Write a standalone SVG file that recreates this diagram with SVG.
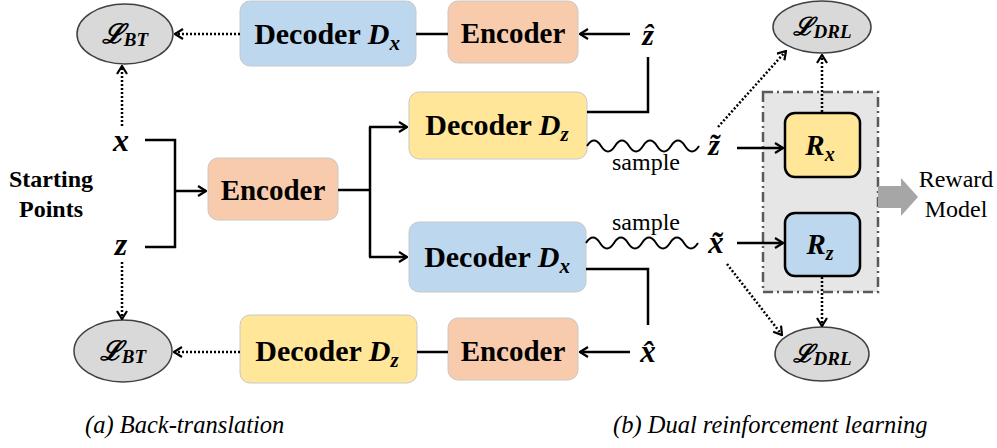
<svg xmlns="http://www.w3.org/2000/svg" width="997" height="448" viewBox="0 0 997 448">
<style>
.box{stroke:#c8c8c8;stroke-width:1}
.blue{fill:#bdd7ee}.yellow{fill:#ffe699}.orange{fill:#f8cbad}
.loss{fill:#d9d9d9;stroke:#404040;stroke-width:1.5}
.sol{fill:none;stroke:#000;stroke-width:2.5}
.dot{fill:none;stroke:#000;stroke-width:2.5;stroke-dasharray:2 2}
.wave{fill:none;stroke:#000;stroke-width:2}
</style>
<defs>
<marker id="ah" markerWidth="10" markerHeight="12" refX="9" refY="6" orient="auto" markerUnits="userSpaceOnUse">
<path d="M1,1 L9,6 L1,11" fill="none" stroke="#000" stroke-width="2.2"/>
</marker>
</defs>
<rect width="997" height="448" fill="#fff"/>

<g font-family="'Liberation Serif', 'Times New Roman', 'DejaVu Serif', serif" fill="#000">

<g id="reward-model">
<rect x="763" y="92" width="115" height="200" fill="#e7e6e6" stroke="#5a5a5a" stroke-width="2.5" stroke-dasharray="10 4 2 4"/>
<path d="M878,186 H901 V178 L918,197 L901,216 V208 H878 Z" fill="#a6a6a6"/>
<text x="956" y="187" font-size="24" text-anchor="middle">Reward</text>
<text x="956" y="217" font-size="24" text-anchor="middle">Model</text>
</g>

<g id="loss-bt-top"><ellipse class="loss" cx="125" cy="34" rx="48" ry="30"/>
<text x="125" y="43" font-size="27" font-weight="bold" font-style="italic" text-anchor="middle">ℒ<tspan font-size="19" dy="3">BT</tspan></text></g>
<g id="decoder-dx-top"><rect class="box blue" x="240" y="1" width="176" height="65" rx="10"/>
<text x="327" y="44" font-size="30" font-weight="bold" text-anchor="middle">Decoder <tspan font-style="italic">D</tspan><tspan font-style="italic" font-size="21" dy="6">x</tspan></text></g>
<g id="encoder-top"><rect class="box orange" x="448" y="1" width="130" height="62" rx="10"/>
<text x="513" y="43" font-size="29" font-weight="bold" text-anchor="middle">Encoder</text></g>
<g id="zhat"><text x="648" y="45" font-size="30" font-weight="bold" font-style="italic" text-anchor="middle">ẑ</text></g>

<g id="x-start"><text x="121" y="151" font-size="32" font-weight="bold" font-style="italic" text-anchor="middle">x</text></g>
<g id="z-start"><text x="121" y="255" font-size="32" font-weight="bold" font-style="italic" text-anchor="middle">z</text></g>
<g id="starting-points"><text x="51" y="187" font-size="24" font-weight="bold" text-anchor="middle">Starting</text>
<text x="51" y="217" font-size="24" font-weight="bold" text-anchor="middle">Points</text></g>

<g id="encoder-mid"><rect class="box orange" x="208" y="158" width="130" height="62" rx="10"/>
<text x="273" y="200" font-size="29" font-weight="bold" text-anchor="middle">Encoder</text></g>
<g id="decoder-dz-mid"><rect class="box yellow" x="409" y="92" width="178" height="67" rx="10"/>
<text x="497" y="135" font-size="30" font-weight="bold" text-anchor="middle">Decoder <tspan font-style="italic">D</tspan><tspan font-style="italic" font-size="21" dy="6">z</tspan></text></g>
<g id="decoder-dx-mid"><rect class="box blue" x="409" y="222" width="177" height="70" rx="10"/>
<text x="497" y="267" font-size="30" font-weight="bold" text-anchor="middle">Decoder <tspan font-style="italic">D</tspan><tspan font-style="italic" font-size="21" dy="6">x</tspan></text></g>

<g id="ztilde"><text x="714" y="155" font-size="30" font-weight="bold" font-style="italic" text-anchor="middle">z̃</text></g>
<g id="xtilde"><text x="716" y="253" font-size="31" font-weight="bold" font-style="italic" text-anchor="middle">x̃</text></g>
<g id="xhat"><text x="648" y="362" font-size="31" font-weight="bold" font-style="italic" text-anchor="middle">x̂</text></g>

<g id="rx"><rect x="785" y="113" width="75" height="64" rx="10" fill="#ffe699" stroke="#000" stroke-width="2.5"/>
<text x="820" y="155" font-size="29" font-weight="bold" font-style="italic" text-anchor="middle">R<tspan font-size="20" dy="6">x</tspan></text></g>
<g id="rz"><rect x="785" y="213" width="75" height="63" rx="10" fill="#bdd7ee" stroke="#000" stroke-width="2.5"/>
<text x="820" y="254" font-size="29" font-weight="bold" font-style="italic" text-anchor="middle">R<tspan font-size="20" dy="6">z</tspan></text></g>

<g id="loss-drl-top"><ellipse class="loss" cx="822" cy="27" rx="49" ry="26"/>
<text x="822" y="35" font-size="25" font-weight="bold" font-style="italic" text-anchor="middle">ℒ<tspan font-size="19" dy="3">DRL</tspan></text></g>
<g id="loss-drl-bottom"><ellipse class="loss" cx="822" cy="354" rx="47" ry="27"/>
<text x="822" y="362" font-size="25" font-weight="bold" font-style="italic" text-anchor="middle">ℒ<tspan font-size="19" dy="3">DRL</tspan></text></g>

<g id="loss-bt-bottom"><ellipse class="loss" cx="123" cy="351" rx="49" ry="31"/>
<text x="123" y="360" font-size="27" font-weight="bold" font-style="italic" text-anchor="middle">ℒ<tspan font-size="19" dy="3">BT</tspan></text></g>
<g id="decoder-dz-bottom"><rect class="box yellow" x="240" y="315" width="177" height="68" rx="10"/>
<text x="327" y="361" font-size="30" font-weight="bold" text-anchor="middle">Decoder <tspan font-style="italic">D</tspan><tspan font-style="italic" font-size="21" dy="6">z</tspan></text></g>
<g id="encoder-bottom"><rect class="box orange" x="448" y="318" width="130" height="62" rx="10"/>
<text x="513" y="361" font-size="29" font-weight="bold" text-anchor="middle">Encoder</text></g>

<g id="connectors">
<line class="dot" x1="240" y1="34" x2="175" y2="34" marker-end="url(#ah)"/>
<line class="sol" x1="416" y1="34" x2="448" y2="34"/>
<line class="sol" x1="630" y1="34" x2="580" y2="34" marker-end="url(#ah)"/>
<path class="sol" d="M648,57 V112 H587"/>
<line class="dot" x1="122" y1="126" x2="122" y2="66" marker-end="url(#ah)"/>
<path class="sol" d="M145,140 H175 V247 H145"/>
<line class="sol" x1="175" y1="191" x2="206" y2="191" marker-end="url(#ah)"/>
<path class="sol" d="M338,190 H370 M370,127 V257"/>
<line class="sol" x1="369" y1="127" x2="407" y2="127" marker-end="url(#ah)"/>
<line class="sol" x1="369" y1="257" x2="407" y2="257" marker-end="url(#ah)"/>
<path class="sol" d="M586,269 H648 V325"/>
<line class="sol" x1="630" y1="352" x2="580" y2="352" marker-end="url(#ah)"/>
<line class="sol" x1="417" y1="352" x2="448" y2="352"/>
<line class="dot" x1="240" y1="352" x2="174" y2="352" marker-end="url(#ah)"/>
<line class="dot" x1="122" y1="262" x2="122" y2="319" marker-end="url(#ah)"/>
<path class="wave" d="M587,146 q7,-11 14,0 t14,0 t14,0 t14,0 t14,0 t14,0 t14,0 t14,0"/>
<path class="wave" d="M586,243 q7,-11 14,0 t14,0 t14,0 t14,0 t14,0 t14,0 t14,0 t14,0"/>
<text x="646" y="170" font-size="24" text-anchor="middle">sample</text>
<text x="646" y="230" font-size="24" text-anchor="middle">sample</text>
<line class="sol" x1="737" y1="148" x2="783" y2="148" marker-end="url(#ah)"/>
<line class="sol" x1="737" y1="243" x2="783" y2="243" marker-end="url(#ah)"/>
<line class="dot" x1="822" y1="112" x2="822" y2="55" marker-end="url(#ah)"/>
<line class="dot" x1="718" y1="127" x2="786" y2="51" marker-end="url(#ah)"/>
<line class="dot" x1="822" y1="277" x2="822" y2="326" marker-end="url(#ah)"/>
<line class="dot" x1="727" y1="264" x2="782" y2="335" marker-end="url(#ah)"/>
</g>

<g id="captions">
<text x="85" y="433" font-size="24.5" font-style="italic">(a) Back-translation</text>
<text x="613" y="433" font-size="24.5" font-style="italic">(b) Dual reinforcement learning</text>
</g>
</g>
</svg>
